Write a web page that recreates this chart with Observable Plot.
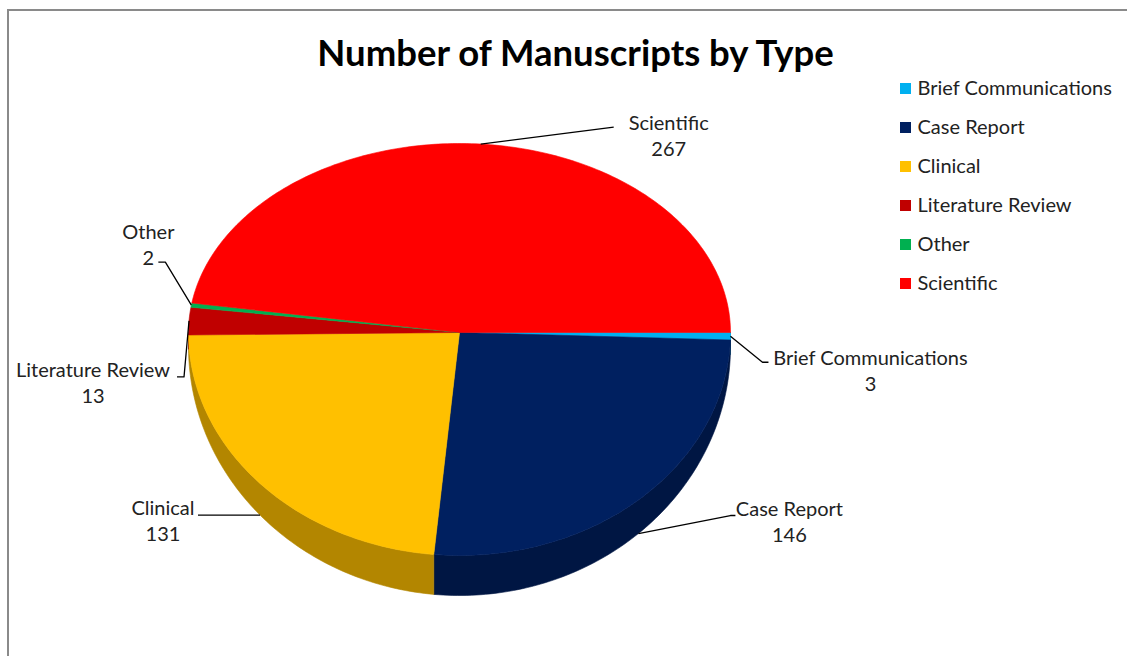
<!DOCTYPE html>
<html><head><meta charset="utf-8">
<script src="https://cdn.jsdelivr.net/npm/d3@7"></script>
<script src="https://cdn.jsdelivr.net/npm/@observablehq/plot@0.6"></script>
<style>
body{margin:0;background:#fff;}
#wrap{position:relative;width:1127px;height:656px;overflow:hidden;background:#fff;}
#chart{position:absolute;left:0;top:0;}
#frame{position:absolute;left:7px;top:9px;width:1200px;height:700px;border-top:2px solid #8a8a8a;border-left:2px solid #8a8a8a;pointer-events:none;}
</style></head><body>
<div id="wrap"><div id="chart"></div><div id="frame"></div></div>
<script>
// ---- data ----
const categories = ["Brief Communications", "Case Report", "Clinical", "Literature Review", "Other", "Scientific"];
const counts = [3, 146, 131, 13, 2, 267];
const colors = ["#00B0F0", "#002060", "#FFC000", "#C00000", "#00B050", "#FF0000"];
const titleText = "Number of Manuscripts by Type";

// ---- layout ----
const W = 1127, H = 656;
const cx = 459, cy = 332, rx = 271, ryTop = 189, ryBot = 223, depth = 40;
const FONT = "Lato, 'Open Sans', sans-serif";
const labelFont = 20;
// label placement offsets relative to each slice's anchor point
const labelLayout = {
  "Brief Communications": {leader: [[32, 26], [38, 26]], text: [140, 22]},
  "Case Report": {leader: [[92, -18], [97, -18]], text: [151, -24]},
  "Clinical": {leader: [[-62, 0]], text: [-97, -6]},
  "Literature Review": {leader: [[-5, 56], [-12, 56]], text: [-96, 50]},
  "Other": {leader: [[-26, -43], [-33, -43]], text: [-43, -73]},
  "Scientific": {leader: [[133, -17]], text: [188, -20]}
};

const dropAt = a => depth * (0.35 + 0.65 * Math.max(0, -Math.cos(a)));
function pt(a, drop) {
  const u = Math.sin(a), v = -Math.cos(a);
  return [cx + rx * u, cy + (v < 0 ? ryTop : ryBot) * v + (drop ? dropAt(a) : 0)];
}
function arcPts(a0, a1, drop) {
  const n = Math.max(2, Math.ceil((a1 - a0) / (2 * Math.PI) * 360));
  return d3.range(n + 1).map(i => pt(a0 + (a1 - a0) * i / n, drop));
}

const arcs = d3.pie().sort(null).value(d => d)
  .startAngle(Math.PI / 2).endAngle(Math.PI / 2 + 2 * Math.PI)(counts);

const marks = [];
// side (depth) faces
arcs.forEach((arc, i) => {
  const a0 = Math.max(arc.startAngle, Math.PI / 2), a1 = Math.min(arc.endAngle, 3 * Math.PI / 2);
  if (a1 <= a0) return;
  const poly = [...arcPts(a0, a1, false), ...arcPts(a0, a1, true).reverse()];
  poly.push(poly[0]);
  const c = d3.color(colors[i]).darker(1).formatHex();
  marks.push(Plot.line(poly, {x: d => d[0], y: d => d[1], fill: c, stroke: c, strokeWidth: 0.6, curve: "linear"}));
});
// top faces
arcs.forEach((arc, i) => {
  const poly = [[cx, cy], ...arcPts(arc.startAngle, arc.endAngle, false), [cx, cy]];
  marks.push(Plot.line(poly, {x: d => d[0], y: d => d[1], fill: colors[i], stroke: colors[i], strokeWidth: 0.6, curve: "linear"}));
});
// labels with leader lines
const labelRows = [];
arcs.forEach((arc, i) => {
  const mid = (arc.startAngle + arc.endAngle) / 2;
  const front = -Math.cos(mid) > 0.3;
  const anchor = pt(mid, front);
  const L = labelLayout[categories[i]];
  const path = [anchor, ...L.leader.map(([dx, dy]) => [anchor[0] + dx, anchor[1] + dy])];
  marks.push(Plot.line(path, {x: d => d[0], y: d => d[1], stroke: "#000", strokeWidth: 1.3, curve: "linear", strokeLinecap: "butt"}));
  labelRows.push({name: categories[i], value: String(counts[i]), x: anchor[0] + L.text[0], y: anchor[1] + L.text[1]});
});
marks.push(Plot.text(labelRows, {x: "x", y: "y", text: "name", fontSize: labelFont, fill: "#222", textAnchor: "middle", lineAnchor: "middle"}));
marks.push(Plot.text(labelRows, {x: "x", y: d => d.y + 26, text: "value", fontSize: labelFont, fill: "#222", textAnchor: "middle", lineAnchor: "middle"}));

// legend
const legX = 905, legY = 88, legStep = 39;
const legendRows = categories.map((c, i) => ({name: c, color: colors[i], y: legY + i * legStep}));
marks.push(Plot.dot(legendRows, {x: () => legX, y: "y", symbol: "square", r: 6.2, fill: "color", stroke: null}));
marks.push(Plot.text(legendRows, {x: () => legX + 12, y: "y", text: "name", fontSize: labelFont, fill: "#222", textAnchor: "start", lineAnchor: "middle"}));

// title
marks.push(Plot.text([titleText], {x: () => 575, y: () => 54, text: d => d, fontSize: 36.5, fontWeight: "bold", fill: "#000", textAnchor: "middle", lineAnchor: "middle"}));

const chart = Plot.plot({
  width: W, height: H,
  marginTop: 0, marginRight: 0, marginBottom: 0, marginLeft: 0,
  x: {domain: [0, W], range: [0, W], axis: null},
  y: {domain: [0, H], range: [0, H], axis: null},
  color: {type: "identity"},
  style: {fontFamily: FONT, background: "transparent"},
  marks
});
document.getElementById("chart").appendChild(chart);
</script>
</body></html>
